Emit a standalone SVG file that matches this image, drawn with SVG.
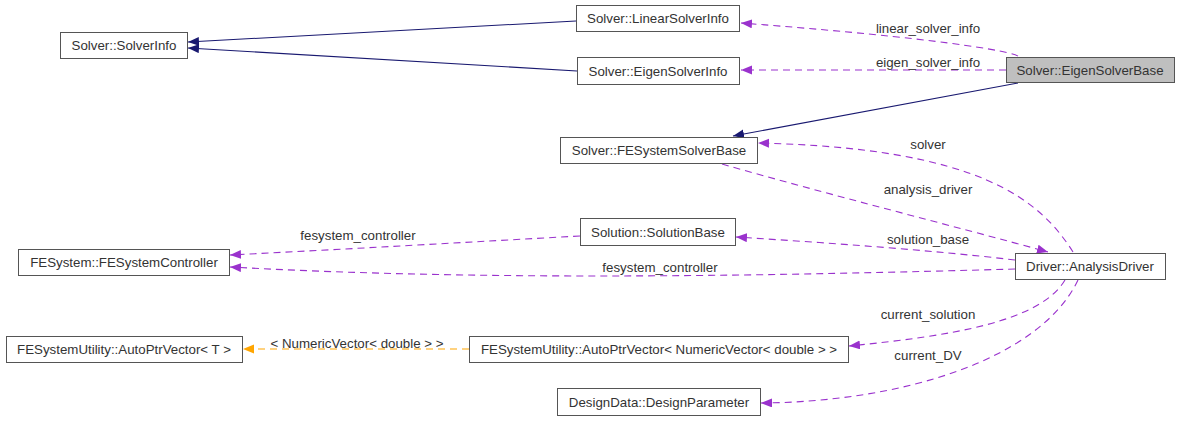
<svg xmlns="http://www.w3.org/2000/svg" width="1181" height="421" viewBox="0 0 1181 421">
<style>
.node rect{fill:#ffffff;stroke:#555555;stroke-width:1}
.node.focus rect{fill:#bfbfbf}
text{font-family:"Liberation Sans",Arial,sans-serif;font-size:13.3px;fill:#333333}
.node text{text-anchor:middle}
.lbl{text-anchor:middle}
.inh{fill:none;stroke:#191970;stroke-width:1.1}
.use{fill:none;stroke:#9a32cd;stroke-width:1.1;stroke-dasharray:7,5}
.tpl{fill:none;stroke:#ffa500;stroke-width:1.1;stroke-dasharray:7,5}
</style>
<defs>
<marker id="aN" markerUnits="userSpaceOnUse" markerWidth="12" markerHeight="10" refX="11" refY="4.5" orient="auto"><path d="M0,0 L11,4.5 L0,9 z" fill="#191970"/></marker>
<marker id="aP" markerUnits="userSpaceOnUse" markerWidth="12" markerHeight="10" refX="11" refY="4.5" orient="auto"><path d="M0,0 L11,4.5 L0,9 z" fill="#9a32cd"/></marker>
<marker id="aO" markerUnits="userSpaceOnUse" markerWidth="12" markerHeight="10" refX="11" refY="4.5" orient="auto"><path d="M0,0 L11,4.5 L0,9 z" fill="#ffa500"/></marker>
</defs>
<rect width="1181" height="421" fill="#ffffff"/>
<g id="connectors">
<path class="inh" d="M576,21 L188,42" marker-end="url(#aN)"/>
<path class="inh" d="M577,71 L188,48" marker-end="url(#aN)"/>
<path class="inh" d="M1018,83 L733,136" marker-end="url(#aN)"/>
<path class="use" d="M1018,56 C1000,48 900,35 741,23" marker-end="url(#aP)"/>
<text class="lbl" x="928" y="33">linear_solver_info</text>
<path class="use" d="M1006,70 L741,70" marker-end="url(#aP)"/>
<text class="lbl" x="928" y="67">eigen_solver_info</text>
<path class="use" d="M1073,252 C1040,200 980,148 758,143" marker-end="url(#aP)"/>
<text class="lbl" x="928" y="149">solver</text>
<path class="use" d="M722,164 C830,195 950,225 1048,252" marker-end="url(#aP)"/>
<text class="lbl" x="928" y="194">analysis_driver</text>
<path class="use" d="M1015,260 C930,250 830,243 736,237" marker-end="url(#aP)"/>
<text class="lbl" x="928" y="244">solution_base</text>
<path class="use" d="M580,236 C470,242 350,249 230,255" marker-end="url(#aP)"/>
<text class="lbl" x="358" y="240">fesystem_controller</text>
<path class="use" d="M1015,269 C800,275 500,282 230,267" marker-end="url(#aP)"/>
<text class="lbl" x="660" y="272">fesystem_controller</text>
<path class="use" d="M1065,280 C1040,322 950,336 849,346" marker-end="url(#aP)"/>
<text class="lbl" x="928" y="319">current_solution</text>
<path class="use" d="M1078,280 C1040,360 900,402 761,403" marker-end="url(#aP)"/>
<text class="lbl" x="928" y="360">current_DV</text>
<path class="tpl" d="M469,349 L243,349" marker-end="url(#aO)"/>
<text class="lbl" x="357" y="348">&lt; NumericVector&lt; double &gt; &gt;</text>
</g>
<g id="n_solverinfo" class="node"><rect x="60.5" y="32.5" width="127" height="26"/><text x="124" y="50">Solver::SolverInfo</text></g>
<g id="n_linearsolverinfo" class="node"><rect x="576.5" y="5.5" width="163" height="26"/><text x="658" y="23">Solver::LinearSolverInfo</text></g>
<g id="n_eigensolverinfo" class="node"><rect x="577.5" y="57.5" width="162" height="27"/><text x="658" y="75.5">Solver::EigenSolverInfo</text></g>
<g id="n_eigensolverbase" class="node focus"><rect x="1006.5" y="57.5" width="168" height="25"/><text x="1090" y="74.5">Solver::EigenSolverBase</text></g>
<g id="n_fesystemsolverbase" class="node"><rect x="560.5" y="137.5" width="197" height="26"/><text x="659" y="155">Solver::FESystemSolverBase</text></g>
<g id="n_solutionbase" class="node"><rect x="580.5" y="218.5" width="155" height="27"/><text x="658" y="236.5">Solution::SolutionBase</text></g>
<g id="n_fesystemcontroller" class="node"><rect x="18.5" y="249.5" width="211" height="26"/><text x="124" y="267">FESystem::FESystemController</text></g>
<g id="n_analysisdriver" class="node"><rect x="1015.5" y="253.5" width="150" height="26"/><text x="1090" y="271">Driver::AnalysisDriver</text></g>
<g id="n_autoptrvector_t" class="node"><rect x="6.5" y="336.5" width="236" height="26"/><text x="124" y="354">FESystemUtility::AutoPtrVector&lt; T &gt;</text></g>
<g id="n_autoptrvector_nv" class="node"><rect x="469.5" y="336.5" width="379" height="26"/><text x="659" y="354">FESystemUtility::AutoPtrVector&lt; NumericVector&lt; double &gt; &gt;</text></g>
<g id="n_designparameter" class="node"><rect x="557.5" y="388.5" width="203" height="27"/><text x="659" y="406.5">DesignData::DesignParameter</text></g>
</svg>
